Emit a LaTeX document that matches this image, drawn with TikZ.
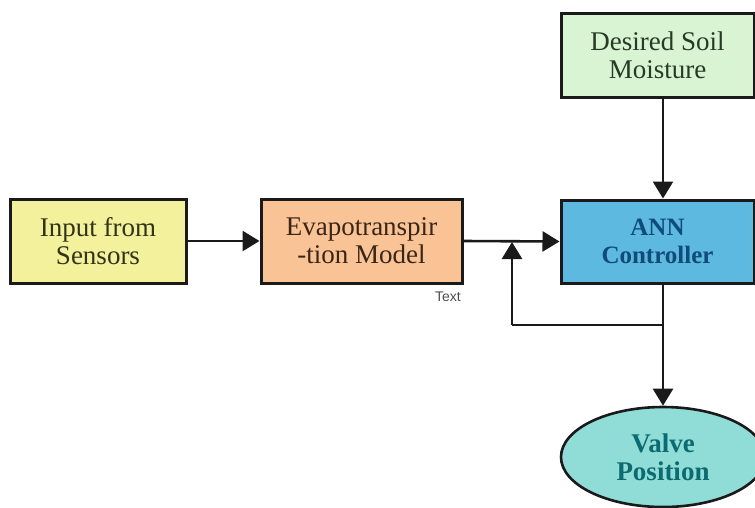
\documentclass[tikz,border=0pt]{standalone}
\usepackage{fontspec}
\setmainfont{Liberation Serif}
\newfontfamily\labelsans{Liberation Sans}
\usetikzlibrary{arrows.meta,shapes.geometric}

\definecolor{inputfill}{HTML}{F4F19C}
\definecolor{inputtext}{HTML}{33331A}
\definecolor{evapfill}{HTML}{F9C396}
\definecolor{evaptext}{HTML}{3A2616}
\definecolor{soilfill}{HTML}{D9F4D3}
\definecolor{soiltext}{HTML}{283A26}
\definecolor{annfill}{HTML}{5DB9DF}
\definecolor{anntext}{HTML}{0F4C7A}
\definecolor{valvefill}{HTML}{90DDD7}
\definecolor{valvetext}{HTML}{0C6B70}
\definecolor{edge}{HTML}{1A1A1A}

\tikzset{
  block/.style={draw=edge, line width=3pt, inner sep=0pt, align=center,
    font=\fontsize{27}{28}\selectfont},
  flow/.style={draw=edge, line width=2.6pt,
    -{Triangle[length=17pt,width=20pt]}},
  wire/.style={draw=edge, line width=2.6pt}
}

\begin{document}
\begin{tikzpicture}[x=1pt,y=-1pt]
  \useasboundingbox (0,0) rectangle (755,507);
  \begin{scope}
    \clip (0,0) rectangle (755,507);

    % processing blocks
    \node[block, fill=inputfill, text=inputtext, minimum width=176pt, minimum height=84pt]
      (input) at (98,241) {Input from\\Sensors};
    \node[block, fill=evapfill, text=evaptext, minimum width=201pt, minimum height=84pt]
      (evap) at (361.5,241) {Evapotranspir\\-tion Model};
    \node[block, fill=soilfill, text=soiltext, minimum width=193pt, minimum height=84pt]
      (soil) at (657.5,55) {Desired Soil\\Moisture};
    \node[block, fill=annfill, text=anntext, minimum width=193pt, minimum height=83pt,
      font=\fontsize{25}{28}\selectfont\bfseries]
      (ann) at (657.5,241.5) {ANN\\Controller};
    \node[block, ellipse, fill=valvefill, text=valvetext, minimum width=204pt, minimum height=100pt,
      line width=2.6pt, font=\fontsize{27}{28}\selectfont\bfseries]
      (valve) at (663,457) {Valve\\Position};

    \node[font=\labelsans\fontsize{14}{16}\selectfont, text=black!70] (tag) at (448,297) {Text};

    % junction points of the feedback loop
    \coordinate (tap) at (663,325);
    \coordinate (fbcorner) at (512,325);
    \coordinate (sum) at (512,242);

    % signal flow
    \draw[flow] (input.east) -- (evap.west);
    \draw[flow] (evap.east) -- (ann.west);
    \draw[flow] (soil.south -| tap) -- (ann.north -| tap);
    \draw[flow] (ann.south -| tap) -- (valve.north);
    \draw[wire] (tap) -- (fbcorner);
    \draw[flow] (fbcorner) -- (sum);
  \end{scope}
\end{tikzpicture}
\end{document}
